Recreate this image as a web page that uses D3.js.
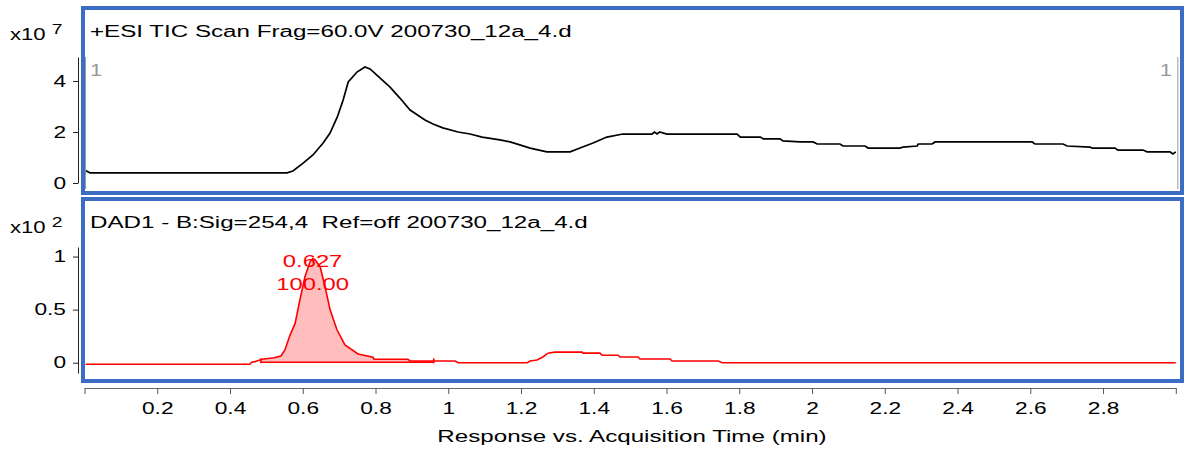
<!DOCTYPE html>
<html>
<head>
<meta charset="utf-8">
<script src="https://cdn.jsdelivr.net/npm/d3@7"></script>
<style>
  body { margin: 0; background: #fff; }
  svg { display: block; font-family: "Liberation Sans", Arial, sans-serif; }
</style>
</head>
<body>
<svg id="chart" width="1187" height="455"></svg>
<script>
// TIC trace (minutes, x10^7 counts)
const ticTime = [0.004, 0.015, 0.557, 0.573, 0.601, 0.628, 0.656, 0.675, 0.695, 0.711, 0.725, 0.749, 0.771, 0.785,
  0.812, 0.840, 0.867, 0.895, 0.936, 0.958, 0.985, 1.027, 1.060, 1.093, 1.142, 1.170, 1.225, 1.271, 1.335, 1.362,
  1.398, 1.436, 1.480, 1.560, 1.567, 1.574, 1.581, 1.601, 1.794, 1.803, 1.858, 1.866, 1.912, 1.920, 1.967, 2.003, 2.014,
  2.077, 2.085, 2.146, 2.154, 2.242, 2.250, 2.289, 2.292, 2.330, 2.338, 2.605, 2.613, 2.690, 2.701, 2.764,
  2.770, 2.833, 2.841, 2.910, 2.921, 2.984, 2.992, 3.0];
const ticValue = [0.48, 0.40, 0.40, 0.47, 0.78, 1.10, 1.57, 1.96, 2.59, 3.25, 3.96, 4.35, 4.55, 4.47,
  4.12, 3.76, 3.33, 2.86, 2.47, 2.31, 2.16, 2.00, 1.92, 1.80, 1.69, 1.61, 1.37, 1.22, 1.22, 1.37,
  1.57, 1.80, 1.92, 1.92, 2.00, 1.92, 2.00, 1.92, 1.92, 1.80, 1.80, 1.73, 1.73, 1.65, 1.61, 1.61, 1.53,
  1.53, 1.45, 1.45, 1.37, 1.37, 1.41, 1.45, 1.53, 1.53, 1.61, 1.61, 1.53, 1.53, 1.45, 1.41,
  1.37, 1.37, 1.29, 1.29, 1.22, 1.22, 1.14, 1.22];

// DAD trace (minutes, x10^2 mAU)
const dadTime = [0.003, 0.454, 0.460, 0.468, 0.488, 0.521, 0.540, 0.551, 0.565, 0.579, 0.592, 0.606, 0.620, 0.627,
  0.634, 0.648, 0.661, 0.675, 0.694, 0.716, 0.752, 0.793, 0.796, 0.889, 0.895, 1.019, 1.027, 1.217, 1.225,
  1.244, 1.260, 1.274, 1.293, 1.368, 1.370, 1.417, 1.423, 1.467, 1.472, 1.522, 1.527, 1.610, 1.615, 1.742,
  1.753, 3.0];
const dadValue = [-0.015, -0.015, 0.004, 0.01, 0.032, 0.047, 0.063, 0.12, 0.26, 0.37, 0.59, 0.81, 0.95, 0.98,
  0.97, 0.90, 0.72, 0.50, 0.31, 0.167, 0.082, 0.051, 0.032, 0.032, 0.016, 0.016, 0.0, 0.0, 0.016,
  0.025, 0.054, 0.09, 0.10, 0.10, 0.09, 0.09, 0.07, 0.07, 0.054, 0.054, 0.035, 0.035, 0.016, 0.016,
  0.0, 0.0];

// integrated peak
const peakStart = 0.485, peakEnd = 0.960, peakBase = 0.004;
const peakRT = "0.627", peakArea = "100.00";

const xTicks = [0, 0.2, 0.4, 0.6, 0.8, 1, 1.2, 1.4, 1.6, 1.8, 2, 2.2, 2.4, 2.6, 2.8, 3];
const ticTicks = [0, 2, 4];
const dadTicks = [0, 0.5, 1];

const svg = d3.select("#chart");
const blue = "#3b6dc5";
const font = "Liberation Sans, Arial, sans-serif";

const x = d3.scaleLinear().domain([0, 3]).range([84.5, 1175.8]);
const yTop = d3.scaleLinear().domain([0, 4.94]).range([183, 57]);
const yBot = d3.scaleLinear().domain([-0.097, 1.09]).range([373, 247]);

// the original text is drawn wide, so stretch it horizontally
function label(px, py, str, size, sx, color, anchor) {
  return svg.append("text")
    .attr("transform", "translate(" + px + "," + py + ") scale(" + sx + ",1)")
    .attr("font-size", size).attr("fill", color || "#000")
    .attr("text-anchor", anchor || "start")
    .attr("xml:space", "preserve")
    .text(str);
}

// panel boxes
svg.append("rect").attr("x", 83).attr("y", 8).attr("width", 1099).attr("height", 185)
  .attr("fill", "none").attr("stroke", blue).attr("stroke-width", 4);
svg.append("rect").attr("x", 83).attr("y", 199).attr("width", 1099).attr("height", 182)
  .attr("fill", "none").attr("stroke", blue).attr("stroke-width", 4);

// gray range markers on the TIC panel
[0, 3].forEach(function(t) {
  svg.append("line")
    .attr("x1", x(t) + (t === 0 ? 1 : 2)).attr("x2", x(t) + (t === 0 ? 1 : 2))
    .attr("y1", 57).attr("y2", 189)
    .attr("stroke", "#999").attr("stroke-width", 1);
});
label(90, 76, "1", 17, 1.3, "#999");
label(1172, 76, "1", 17, 1.3, "#999", "end");

// titles
label(90, 37, "+ESI TIC Scan Frag=60.0V 200730_12a_4.d", 16, 1.51);
label(90, 228, "DAD1 - B:Sig=254,4  Ref=off 200730_12a_4.d", 16, 1.51);

// multiplier labels
function multiplier(yBase, exp) {
  const t = label(10, yBase, "", 16, 1.38);
  t.append("tspan").text("x10 ");
  t.append("tspan").attr("dy", -6).attr("font-size", 14).text(exp);
}
multiplier(40, "7");
multiplier(233, "2");

// y axes
const tickSx = 1.42;
function yAxis(scale, ticks, fmt) {
  const g = svg.append("g").attr("transform", "translate(78,0)")
    .call(d3.axisLeft(scale).tickValues(ticks).tickSize(5).tickSizeOuter(0).tickFormat(fmt));
  g.select(".domain").attr("stroke", "#222");
  g.selectAll(".tick line").attr("stroke", "#222");
  g.selectAll(".tick text").attr("font-size", 16).attr("fill", "#000")
    .attr("font-family", font)
    .attr("x", -12 / tickSx).attr("transform", "scale(" + tickSx + ",1)");
}
yAxis(yTop, ticTicks, d3.format("d"));
yAxis(yBot, dadTicks, function(d) { return String(d); });

// x axis
const xg = svg.append("g").attr("transform", "translate(0,388)")
  .call(d3.axisBottom(x).tickValues(xTicks).tickSize(6).tickSizeOuter(0)
    .tickFormat(function(d) { return (d === 0 || d === 3) ? "" : String(d); }));
xg.select(".domain").attr("stroke", "#666");
xg.selectAll(".tick line").attr("stroke", "#555");
xg.selectAll(".tick text").attr("font-size", 16).attr("fill", "#000")
  .attr("font-family", font).attr("dy", "1.05em")
  .attr("transform", "scale(" + tickSx + ",1)");

label(632, 442, "Response vs. Acquisition Time (min)", 16, 1.51, "#000", "middle");

// TIC line
const tic = ticTime.map(function(t, i) { return [t, ticValue[i]]; });
svg.append("path").datum(tic)
  .attr("fill", "none").attr("stroke", "#000").attr("stroke-width", 1.7)
  .attr("d", d3.line().x(function(d) { return x(d[0]); }).y(function(d) { return yTop(d[1]); }));

// DAD peak fill
const dad = dadTime.map(function(t, i) { return [t, dadValue[i]]; });
function dadAt(t) {
  const i = d3.bisectLeft(dadTime, t);
  if (i <= 0) return dadValue[0];
  const t0 = dadTime[i - 1], t1 = dadTime[i];
  return dadValue[i - 1] + (dadValue[i] - dadValue[i - 1]) * (t - t0) / (t1 - t0);
}
const peakPts = [[peakStart, dadAt(peakStart)]]
  .concat(dad.filter(function(d) { return d[0] > peakStart && d[0] < peakEnd; }))
  .concat([[peakEnd, dadAt(peakEnd)]]);
svg.append("path").datum(peakPts)
  .attr("fill", "#ff0000").attr("fill-opacity", 0.26)
  .attr("d", d3.area().x(function(d) { return x(d[0]); })
    .y0(yBot(peakBase)).y1(function(d) { return yBot(d[1]); }));

// DAD line
svg.append("path").datum(dad)
  .attr("fill", "none").attr("stroke", "#ff0000").attr("stroke-width", 1.6)
  .attr("d", d3.line().x(function(d) { return x(d[0]); }).y(function(d) { return yBot(d[1]); }));

// integration baseline
svg.append("line").attr("x1", x(peakStart)).attr("x2", x(peakEnd))
  .attr("y1", yBot(peakBase)).attr("y2", yBot(peakBase))
  .attr("stroke", "#ff0000").attr("stroke-width", 1.6);
[peakStart, peakEnd].forEach(function(t) {
  svg.append("line").attr("x1", x(t)).attr("x2", x(t))
    .attr("y1", yBot(peakBase) + 1).attr("y2", yBot(peakBase) - 4)
    .attr("stroke", "#ff0000").attr("stroke-width", 1.6);
});

// peak labels
label(x(0.627), 267, peakRT, 17, 1.4, "#ff0000", "middle");
label(x(0.627), 290, peakArea, 17, 1.4, "#ff0000", "middle");
</script>
</body>
</html>
